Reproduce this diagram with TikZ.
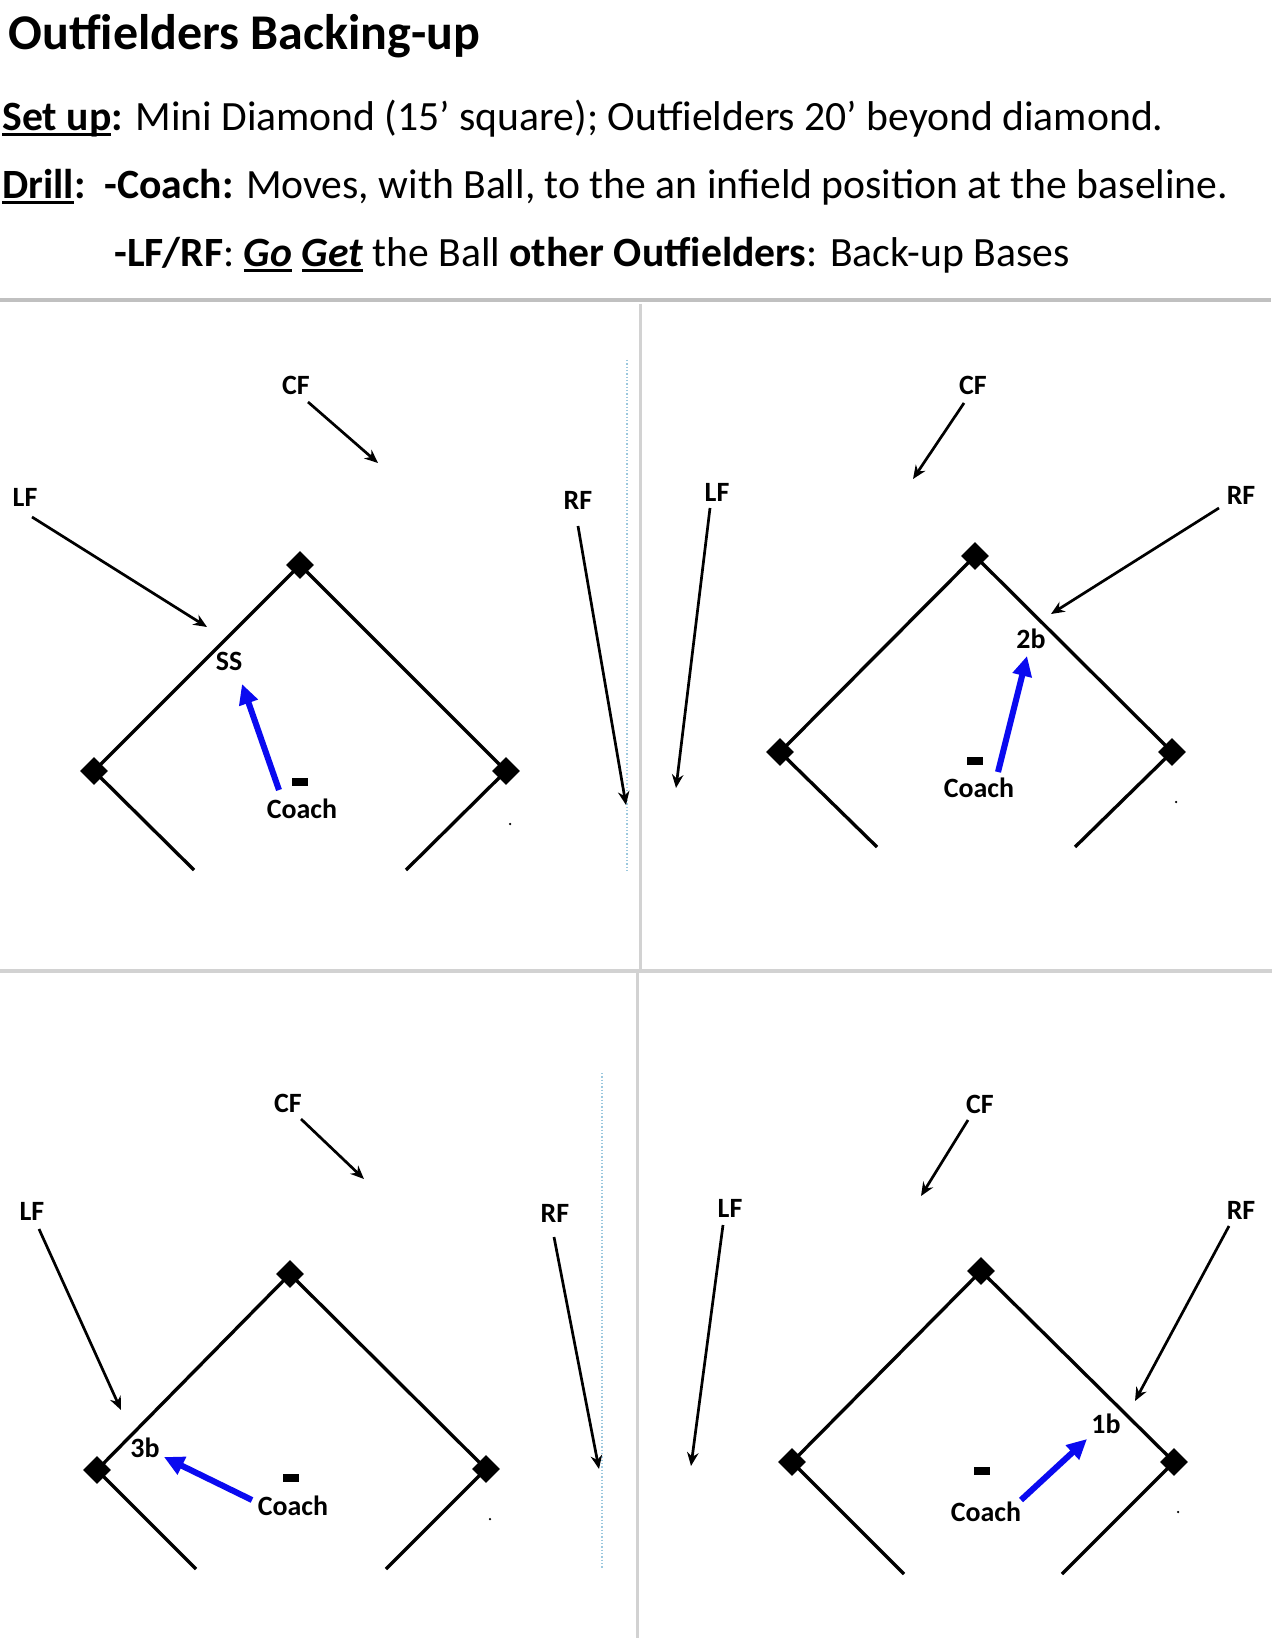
\documentclass[tikz,border=0pt]{standalone}
\usepackage{fontspec}
\setmainfont{Carlito}
\usetikzlibrary{arrows.meta,shapes.geometric}
\definecolor{sepgray}{HTML}{C0C0C0}
\definecolor{sepgrayl}{HTML}{D2D2D2}
\definecolor{dotblue}{HTML}{9CC8DE}
\definecolor{arrblue}{HTML}{0A0AF0}
\newsavebox\ulbox
\newcommand\myul[1]{\sbox\ulbox{#1}\rlap{\rule[-2.3pt]{\wd\ulbox}{1.15pt}}\usebox\ulbox}
\tikzset{
  txt/.style={inner sep=0pt, anchor=base west, font=\fontsize{20pt}{24pt}\selectfont},
  lbl/.style={inner sep=0pt, font=\fontsize{13.4pt}{16pt}\selectfont\bfseries},
  base/.style={diamond, fill=black, inner sep=0pt, minimum width=13.5pt, minimum height=13.5pt},
  side/.style={line width=1.6pt, black},
  runarr/.style={line width=1.3pt, black, -{Stealth[length=6.5pt,width=5.5pt]}},
  coacharr/.style={line width=2.9pt, arrblue, -{Triangle[length=9.6pt,width=9pt]}},
  dashmark/.style={fill=black, inner sep=0pt, minimum width=8pt, minimum height=3.4pt},
  sep/.style={line width=1.9pt, sepgray},
  sepl/.style={line width=1.45pt, sepgrayl},
  guide/.style={line width=0.6pt, dotblue, densely dotted}
}
\begin{document}
\begin{tikzpicture}[x=0.48pt,y=-0.48pt]
\useasboundingbox (0,0) rectangle (1275,1650);
\fill[white] (0,0) rectangle (1275,1650);

% ---- header text ----
\node[txt, font=\fontsize{24pt}{28pt}\selectfont\bfseries] (title) at (8,50) {Outfielders Backing-up};
\node[txt] (setup) at (2,131) {\textbf{\myul{Set up}:} Mini Diamond (15’ square); Outfielders 20’ beyond diamond.};
\node[txt] (drill) at (2,199) {\textbf{\myul{Drill}:}\hspace{0.45em}\textbf{-Coach:} Moves, with Ball, to the an infield position at the baseline.};
\node[txt] (lfrf) at (114,267) {\textbf{-LF/RF}: \textbf{\textit{\myul{Go}}} \textbf{\textit{\myul{Get}}} the Ball \textbf{other Outfielders}: Back-up Bases};

% ---- separators ----
\coordinate (h1a) at (0,300); \coordinate (h1b) at (1271,300);
\coordinate (v1a) at (640,304); \coordinate (v1b) at (640,969);
\coordinate (h2a) at (0,971); \coordinate (h2b) at (1272,971);
\coordinate (v2a) at (637,973); \coordinate (v2b) at (637,1638);
\coordinate (g1a) at (627,360); \coordinate (g1b) at (627,871);
\coordinate (g2a) at (602,1073); \coordinate (g2b) at (602,1568);
\draw[sep] (h1a) -- (h1b);
\draw[sepl] (v1a) -- (v1b);
\draw[sepl] (h2a) -- (h2b);
\draw[sepl] (v2a) -- (v2b);
\draw[guide] (g1a) -- (g1b);
\draw[guide] (g2a) -- (g2b);

% ================= Panel 1 (top-left) =================
\node[base] (p1t) at (300,565) {};
\node[base] (p1l) at (94,771) {};
\node[base] (p1r) at (506,771) {};
\coordinate (p1ll) at (194,870);
\coordinate (p1rl) at (406,870);
\draw[side] (p1l.center) -- (p1t.center) -- (p1r.center);
\draw[side] (p1l.center) -- (p1ll);
\draw[side] (p1r.center) -- (p1rl);
\node[lbl] (p1cf) at (296,385) {CF};
\node[lbl] (p1lf) at (25,497) {LF};
\node[lbl] (p1rf) at (578,500) {RF};
\coordinate (p1cfs) at (308,402); \coordinate (p1cfe) at (378,463);
\coordinate (p1lfs) at (32,517);  \coordinate (p1lfe) at (207,627);
\coordinate (p1rfs) at (578,526); \coordinate (p1rfe) at (626,805);
\draw[runarr] (p1cfs) -- (p1cfe);
\draw[runarr] (p1lfs) -- (p1lfe);
\draw[runarr] (p1rfs) -- (p1rfe);
\node[lbl] (p1ss) at (229,661) {SS};
\node[dashmark] (p1dash) at (300,782) {};
\node[lbl] (p1coach) at (302,809) {Coach};
\coordinate (p1bs) at (279,790); \coordinate (p1be) at (242,684);
\draw[coacharr] (p1bs) -- (p1be);
\fill (510,824) circle (0.6pt);

% ================= Panel 2 (top-right) =================
\node[base] (p2t) at (975,556) {};
\node[base] (p2l) at (780,752) {};
\node[base] (p2r) at (1172,752) {};
\coordinate (p2ll) at (877,847);
\coordinate (p2rl) at (1075,847);
\draw[side] (p2l.center) -- (p2t.center) -- (p2r.center);
\draw[side] (p2l.center) -- (p2ll);
\draw[side] (p2r.center) -- (p2rl);
\node[lbl] (p2cf) at (973,385) {CF};
\node[lbl] (p2lf) at (717,492) {LF};
\node[lbl] (p2rf) at (1241,495) {RF};
\coordinate (p2cfs) at (964,403);  \coordinate (p2cfe) at (913,479);
\coordinate (p2lfs) at (710,508);  \coordinate (p2lfe) at (676,788);
\coordinate (p2rfs) at (1219,508); \coordinate (p2rfe) at (1051,614);
\draw[runarr] (p2cfs) -- (p2cfe);
\draw[runarr] (p2lfs) -- (p2lfe);
\draw[runarr] (p2rfs) -- (p2rfe);
\node[lbl] (p2b) at (1031,639) {2b};
\node[dashmark] (p2dash) at (975,761) {};
\node[lbl] (p2coach) at (979,788) {Coach};
\coordinate (p2bs) at (998,772); \coordinate (p2be) at (1027,656);
\draw[coacharr] (p2bs) -- (p2be);
\fill (1176,802) circle (0.6pt);

% ================= Panel 3 (bottom-left) =================
\node[base] (p3t) at (290,1274) {};
\node[base] (p3l) at (97,1470) {};
\node[base] (p3r) at (486,1469) {};
\coordinate (p3ll) at (196,1569);
\coordinate (p3rl) at (386,1569);
\draw[side] (p3l.center) -- (p3t.center) -- (p3r.center);
\draw[side] (p3l.center) -- (p3ll);
\draw[side] (p3r.center) -- (p3rl);
\node[lbl] (p3cf) at (288,1103) {CF};
\node[lbl] (p3lf) at (32,1211) {LF};
\node[lbl] (p3rf) at (555,1213) {RF};
\coordinate (p3cfs) at (301,1119); \coordinate (p3cfe) at (364,1179);
\coordinate (p3lfs) at (39,1229);  \coordinate (p3lfe) at (121,1410);
\coordinate (p3rfs) at (554,1237); \coordinate (p3rfe) at (599,1469);
\draw[runarr] (p3cfs) -- (p3cfe);
\draw[runarr] (p3lfs) -- (p3lfe);
\draw[runarr] (p3rfs) -- (p3rfe);
\node[lbl] (p3b) at (145,1448) {3b};
\node[dashmark] (p3dash) at (291,1478) {};
\node[lbl] (p3coach) at (293,1506) {Coach};
\coordinate (p3bs) at (252,1500); \coordinate (p3be) at (164,1457);
\draw[coacharr] (p3bs) -- (p3be);
\fill (490,1519) circle (0.6pt);

% ================= Panel 4 (bottom-right) =================
\node[base] (p4t) at (981,1271) {};
\node[base] (p4l) at (792,1462) {};
\node[base] (p4r) at (1174,1462) {};
\coordinate (p4ll) at (904,1574);
\coordinate (p4rl) at (1062,1574);
\draw[side] (p4l.center) -- (p4t.center) -- (p4r.center);
\draw[side] (p4l.center) -- (p4ll);
\draw[side] (p4r.center) -- (p4rl);
\node[lbl] (p4cf) at (980,1104) {CF};
\node[lbl] (p4lf) at (730,1208) {LF};
\node[lbl] (p4rf) at (1241,1210) {RF};
\coordinate (p4cfs) at (968,1120);  \coordinate (p4cfe) at (921,1196);
\coordinate (p4lfs) at (723,1225);  \coordinate (p4lfe) at (691,1466);
\coordinate (p4rfs) at (1229,1226); \coordinate (p4rfe) at (1135,1401);
\draw[runarr] (p4cfs) -- (p4cfe);
\draw[runarr] (p4lfs) -- (p4lfe);
\draw[runarr] (p4rfs) -- (p4rfe);
\node[lbl] (p4b) at (1106,1424) {1b};
\node[dashmark] (p4dash) at (982,1471) {};
\node[lbl] (p4coach) at (986,1512) {Coach};
\coordinate (p4bs) at (1021,1500); \coordinate (p4be) at (1087,1439);
\draw[coacharr] (p4bs) -- (p4be);
\fill (1178,1512) circle (0.6pt);
\end{tikzpicture}
\end{document}
